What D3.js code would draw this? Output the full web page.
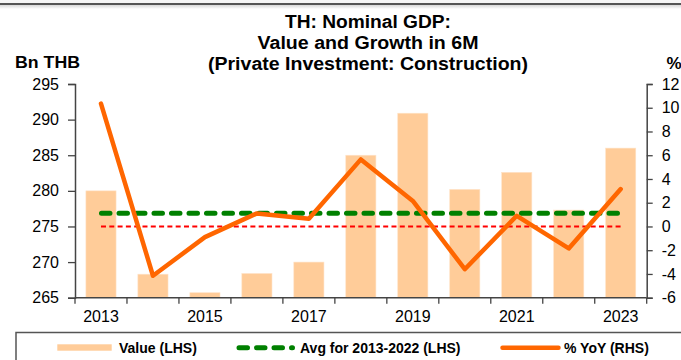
<!DOCTYPE html>
<html>
<head>
<meta charset="utf-8">
<script src="https://cdn.jsdelivr.net/npm/d3@7"></script>
<style>
  html, body { margin: 0; padding: 0; background: #fff; }
  svg { display: block; font-family: "Liberation Sans", Arial, sans-serif; }
</style>
</head>
<body>
<svg id="chart" width="681" height="360"></svg>
<script>
// Nominal GDP, private investment in construction, first six months of each year
const years = ["2013","2014","2015","2016","2017","2018","2019","2020","2021","2022","2023"];
const valueBn = [280.0, 268.3, 265.7, 268.4, 270.0, 285.0, 290.9, 280.2, 282.6, 277.3, 286.0];
const yoyPct = [10.35, -4.15, -0.9, 1.1, 0.65, 5.65, 2.15, -3.6, 0.9, -1.85, 3.15];
const avgYears = ["2013","2022"];          // averaging window for the LHS average line
const leftTicks = [265, 270, 275, 280, 285, 290, 295];
const rightTicks = [-6, -4, -2, 0, 2, 4, 6, 8, 10, 12];
const xLabelYears = ["2013","2015","2017","2019","2021","2023"];
const titleLines = ["TH: Nominal GDP:", "Value and Growth in 6M", "(Private Investment: Construction)"];
const legendLabels = ["Value (LHS)", "Avg for 2013-2022 (LHS)", "% YoY (RHS)"];

const svg = d3.select("#chart");

const plot = { left: 75, right: 646.7, top: 84, bottom: 297.7 };
const C = {
  bar: "#FFCC99", avg: "#008000", zero: "#FF0000", yoy: "#FF6600",
  axis: "#444", text: "#000"
};

// top frame band
svg.append("rect").attr("x", 0).attr("y", 0).attr("width", 681).attr("height", 3).attr("fill", "#f6f6f6");
const grad = svg.append("defs").append("linearGradient").attr("id", "topShade")
  .attr("x1", 0).attr("x2", 0).attr("y1", 0).attr("y2", 1);
grad.append("stop").attr("offset", "0%").attr("stop-color", "#d8d8d8");
grad.append("stop").attr("offset", "100%").attr("stop-color", "#ffffff");
svg.append("rect").attr("x", 0).attr("y", 5).attr("width", 681).attr("height", 4).attr("fill", "url(#topShade)");
svg.append("line").attr("x1", 0).attr("x2", 681).attr("y1", 4).attr("y2", 4)
  .attr("stroke", "#555").attr("stroke-width", 2);

// scales
const pad = 0.42;
const x = d3.scaleBand().domain(years).range([plot.left, plot.right])
  .paddingInner(pad).paddingOuter(pad / 2);
const yL = d3.scaleLinear().domain([265, 295]).range([plot.bottom, plot.top]);
const yR = d3.scaleLinear().domain([-6, 12]).range([plot.bottom, plot.top]);
const cx = d => x(d) + x.bandwidth() / 2;

// bars
svg.append("g").selectAll("rect").data(years).join("rect")
  .attr("x", d => x(d))
  .attr("width", x.bandwidth())
  .attr("y", (d, i) => yL(valueBn[i]))
  .attr("height", (d, i) => yL(265) - yL(valueBn[i]))
  .attr("fill", C.bar)
  .attr("stroke", "#FFE3C8").attr("stroke-width", 0.6);

// zero line of the RHS
svg.append("line")
  .attr("x1", cx(years[0])).attr("x2", cx(years[years.length - 1]))
  .attr("y1", yR(0)).attr("y2", yR(0))
  .attr("stroke", C.zero).attr("stroke-width", 2).attr("stroke-dasharray", "5,3.3");

// average for the window
const i0 = years.indexOf(avgYears[0]), i1 = years.indexOf(avgYears[1]);
const avgVal = d3.mean(valueBn.slice(i0, i1 + 1));
svg.append("line")
  .attr("x1", cx(years[0]) + 0.5).attr("x2", cx(years[years.length - 1]) - 3)
  .attr("y1", yL(avgVal)).attr("y2", yL(avgVal))
  .attr("stroke", C.avg).attr("stroke-width", 5).attr("stroke-linecap", "round")
  .attr("stroke-dasharray", "8.5,9");

// YoY line
const line = d3.line().x((d, i) => cx(years[i])).y(d => yR(d));
svg.append("path").datum(yoyPct).attr("d", line)
  .attr("fill", "none").attr("stroke", C.yoy).attr("stroke-width", 4.5)
  .attr("stroke-linejoin", "round").attr("stroke-linecap", "round");

// axes
const fmt = d => String(d);
const gL = svg.append("g").attr("transform", `translate(${plot.left},0)`)
  .call(d3.axisLeft(yL).tickValues(leftTicks).tickSize(7).tickPadding(9).tickFormat(fmt));
const gR = svg.append("g").attr("transform", `translate(${plot.right},0)`)
  .call(d3.axisRight(yR).tickValues(rightTicks).tickSize(6).tickPadding(9).tickFormat(fmt));
const gB = svg.append("g").attr("transform", `translate(0,${plot.bottom})`)
  .call(d3.axisBottom(x).tickValues(xLabelYears).tickSize(0).tickPadding(13).tickSizeOuter(0));
[gL, gR, gB].forEach(g => {
  g.select(".domain").attr("stroke", C.axis).attr("stroke-width", 1.5);
  g.selectAll(".tick line").attr("stroke", C.axis).attr("stroke-width", 1.3);
  g.selectAll("text").attr("font-size", 16).attr("fill", C.text)
    .attr("font-family", "'Liberation Sans', Arial, sans-serif");
});
gB.select(".domain").attr("d", `M${plot.left},0H${plot.right}`);

// category boundary ticks on the x axis
const bounds = years.map(d => x(d) - x.step() * pad / 2).concat([plot.right]);
svg.append("g").selectAll("line").data(bounds).join("line")
  .attr("x1", d => d).attr("x2", d => d)
  .attr("y1", plot.bottom).attr("y2", plot.bottom + 6)
  .attr("stroke", C.axis).attr("stroke-width", 1.3);

// title
const titleW = [166, 221, 320];
svg.append("g").selectAll("text").data(titleLines).join("text")
  .attr("x", 368).attr("y", (d, i) => 27.5 + i * 21)
  .attr("text-anchor", "middle").attr("font-size", 17.5).attr("font-weight", "bold")
  .attr("textLength", (d, i) => titleW[i]).attr("lengthAdjust", "spacingAndGlyphs")
  .text(d => d);

// axis units
svg.append("text").attr("x", 15).attr("y", 68.3).attr("font-size", 17).attr("font-weight", "bold")
  .attr("textLength", 65).attr("lengthAdjust", "spacingAndGlyphs").text("Bn THB");
svg.append("text").attr("x", 666.5).attr("y", 69.3).attr("font-size", 17).attr("font-weight", "bold").text("%");

// legend frame
svg.append("path").attr("d", "M16,360V332.5H681")
  .attr("fill", "none").attr("stroke", "#555").attr("stroke-width", 1.5);

// legend items
const lg = svg.append("g");
lg.append("rect").attr("x", 57.3).attr("y", 344.3).attr("width", 54.4).attr("height", 6.4).attr("fill", C.bar);
lg.append("line").attr("x1", 239).attr("x2", 292.5).attr("y1", 347.8).attr("y2", 347.8)
  .attr("stroke", C.avg).attr("stroke-width", 5).attr("stroke-linecap", "round").attr("stroke-dasharray", "8.5,9");
lg.append("line").attr("x1", 502.5).attr("x2", 558.5).attr("y1", 347.8).attr("y2", 347.8)
  .attr("stroke", C.yoy).attr("stroke-width", 4.5).attr("stroke-linecap", "round");
const legX = [119, 300, 564];
lg.selectAll("text").data(legendLabels).join("text")
  .attr("x", (d, i) => legX[i]).attr("y", 352.5)
  .attr("font-size", 14).attr("font-weight", "bold").text(d => d);
</script>
</body>
</html>
